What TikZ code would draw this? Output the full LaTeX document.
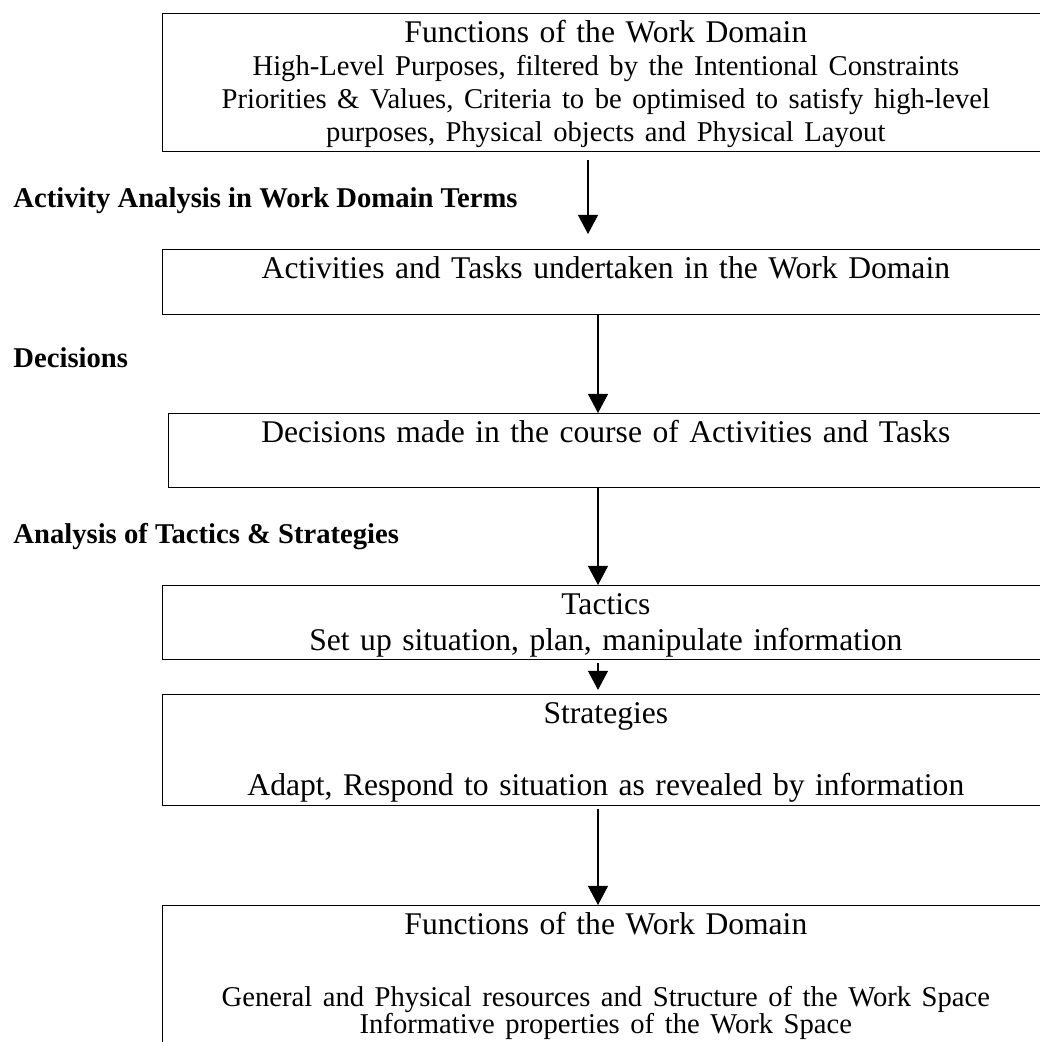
\documentclass[tikz,border=0pt]{standalone}
\usepackage{fontspec}
\setmainfont{Liberation Serif}
\usetikzlibrary{positioning,arrows.meta}
\newcommand{\subtext}{\fontsize{12.6}{14.6}\selectfont}

\begin{document}
\begin{tikzpicture}[x=0.44pt, y=-0.44pt,
BoxStyle/.style={draw, line width=0.6pt, anchor=north west,
                minimum width=390pt, text width=380pt, align=center,
                inner xsep=5pt, inner ysep=3pt, text height=9.6pt,
                font=\fontsize{13.9}{14.6}\selectfont},
TagStyle/.style={anchor=base west, inner sep=0pt,
                font=\fontsize{12.6}{14.6}\selectfont\bfseries},
FlowStyle/.style={-{Triangle[length=8.4pt, width=8.8pt]}, line width=0.45pt},]
\useasboundingbox (0,0) rectangle (1040,1042);
\clip (0,0) rectangle (1040,1042);
% boxes
\node [BoxStyle, text depth=45.1pt] (wd) at (162,13) {Functions of the Work Domain\\
\subtext High-Level Purposes, filtered by the Intentional Constraints\\
Priorities \& Values, Criteria to be optimised to satisfy high-level\\
purposes, Physical objects and Physical Layout};
\node [BoxStyle, text depth=13pt] (act) at (162,249)
      {Activities and Tasks undertaken in the Work Domain};
\node [BoxStyle, text depth=17pt, minimum width=384.7pt, text width=374.7pt] (dec) at (168,413)
      {Decisions made in the course of Activities and Tasks};
\node [BoxStyle, text depth=17pt] (tac) at (162,585)
      {Tactics\\[1.5pt] Set up situation, plan, manipulate information};
\node [BoxStyle, text depth=33.2pt] (str) at (162,694)
      {Strategies\\[17.1pt] Adapt, Respond to situation as revealed by information};
\node [BoxStyle, text depth=70pt] (ws) at (162,905) {Functions of the Work Domain\\[17.1pt]
\subtext General and Physical resources and Structure of the Work Space\\[-2.5pt]
Informative properties of the Work Space};
% side labels
\node [TagStyle] (t1) at (13,207) {Activity Analysis in Work Domain Terms};
\node [TagStyle] (t2) at (13,367) {Decisions};
\node [TagStyle] (t3) at (13,543) {Analysis of Tactics \& Strategies};
% arrows
\coordinate (c1) at (588,0);
\coordinate (c2) at (598,0);
\draw [FlowStyle, shorten <=3.5pt, shorten >=6.6pt] (wd.south -| c1) -- (act.north -| c1);
\draw [FlowStyle] (act.south -| c2) -- (dec.north -| c2);
\draw [FlowStyle] (dec.south -| c2) -- (tac.north -| c2);
\draw [FlowStyle, shorten <=1.3pt, shorten >=1.8pt] (tac.south -| c2) -- (str.north -| c2);
\draw [FlowStyle, shorten <=1.3pt] (str.south -| c2) -- (ws.north -| c2);
\end{tikzpicture}
\end{document}
